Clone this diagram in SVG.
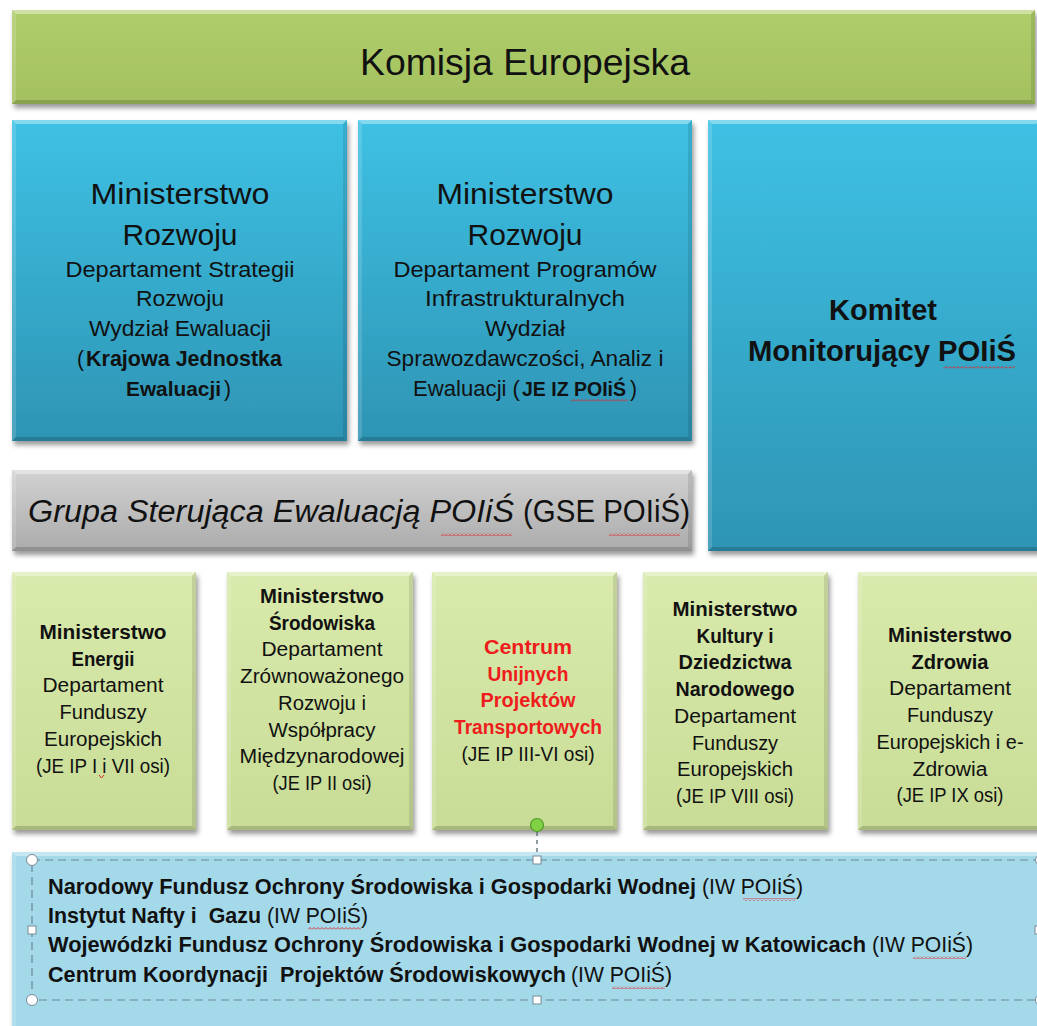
<svg xmlns="http://www.w3.org/2000/svg" width="1037" height="1026" viewBox="0 0 1037 1026">
<defs>
<style>
.t{font-family:"Liberation Sans",Arial,sans-serif;fill:#111;}
.L{font-size:29px;}
.M{font-size:22.5px;}
.S{font-size:20px;}
.B{font-size:21.5px;}
.b{font-weight:bold;}
.c{text-anchor:middle;}
.red{fill:#ee1c1c;}
.bh{fill:#fff;opacity:.38;}
.bl{fill:#fff;opacity:.15;}
.br{fill:#000;opacity:.10;}
.bb{fill:#000;opacity:.16;}
.sq{fill:url(#wave);}
.hc{fill:#fff;stroke:#7a8a94;stroke-width:1;}
</style>
<linearGradient id="gTop" x1="0" y1="0" x2="0" y2="1"><stop offset="0" stop-color="#b0cd6b"/><stop offset="1" stop-color="#a3c15f"/></linearGradient>
<linearGradient id="gBlue" x1="0" y1="0" x2="0" y2="1"><stop offset="0" stop-color="#3ec1e4"/><stop offset="1" stop-color="#2e94b4"/></linearGradient>
<linearGradient id="gGray" x1="0" y1="0" x2="0" y2="1"><stop offset="0" stop-color="#d2d2d2"/><stop offset="1" stop-color="#ababab"/></linearGradient>
<linearGradient id="gLight" x1="0" y1="0" x2="0" y2="1"><stop offset="0" stop-color="#d9eaac"/><stop offset="1" stop-color="#c8dc96"/></linearGradient>
<filter id="sh" x="-5%" y="-5%" width="112%" height="115%"><feDropShadow dx="2" dy="4" stdDeviation="2.5" flood-color="#000" flood-opacity="0.4"/></filter>
<pattern id="wave" width="4" height="3" patternUnits="userSpaceOnUse"><path d="M0 2.5 L2 0.5 L4 2.5" fill="none" stroke="#e02828" stroke-width="0.9"/></pattern>
</defs>
<rect width="1037" height="1026" fill="#fff"/>

<g id="n-komisja">
<rect x="12" y="10" width="1023" height="94" fill="url(#gTop)" filter="url(#sh)"/>
<polygon class="bh" points="12,10 1035,10 1031,14 16,14"/>
<polygon class="bl" points="12,10 16,14 16,100 12,104"/>
<polygon class="br" points="1035,10 1035,104 1031,100 1031,14"/>
<polygon class="bb" points="12,104 1035,104 1031,100 16,100"/>
<text class="t c" x="525" y="75" style="font-size:37px" textLength="330" lengthAdjust="spacingAndGlyphs">Komisja Europejska</text>
</g>

<g id="n-mr1">
<rect x="12" y="120" width="335" height="321" fill="url(#gBlue)" filter="url(#sh)"/>
<polygon class="bh" points="12,120 347,120 343,124 16,124"/>
<polygon class="bl" points="12,120 16,124 16,437 12,441"/>
<polygon class="br" points="347,120 347,441 343,437 343,124"/>
<polygon class="bb" points="12,441 347,441 343,437 16,437"/>
<text class="t L c" x="180" y="204" textLength="179" lengthAdjust="spacingAndGlyphs">Ministerstwo</text>
<text class="t L c" x="180" y="245" textLength="115" lengthAdjust="spacingAndGlyphs">Rozwoju</text>
<text class="t M c" x="180" y="277" textLength="229" lengthAdjust="spacingAndGlyphs">Departament Strategii</text>
<text class="t M c" x="180" y="306" textLength="88" lengthAdjust="spacingAndGlyphs">Rozwoju</text>
<text class="t M c" x="180" y="336" textLength="182" lengthAdjust="spacingAndGlyphs">Wydział Ewaluacji</text>
<text class="t M" x="77" y="366" textLength="7" lengthAdjust="spacingAndGlyphs">(</text>
<text class="t M b" x="86" y="366" textLength="196" lengthAdjust="spacingAndGlyphs">Krajowa Jednostka</text>
<text class="t b" x="126" y="396" style="font-size:20.5px" textLength="95" lengthAdjust="spacingAndGlyphs">Ewaluacji</text>
<text class="t M" x="224" y="396" textLength="7" lengthAdjust="spacingAndGlyphs">)</text>
</g>

<g id="n-mr2">
<rect x="358" y="120" width="334" height="321" fill="url(#gBlue)" filter="url(#sh)"/>
<polygon class="bh" points="358,120 692,120 688,124 362,124"/>
<polygon class="bl" points="358,120 362,124 362,437 358,441"/>
<polygon class="br" points="692,120 692,441 688,437 688,124"/>
<polygon class="bb" points="358,441 692,441 688,437 362,437"/>
<text class="t L c" x="525" y="204" textLength="177" lengthAdjust="spacingAndGlyphs">Ministerstwo</text>
<text class="t L c" x="525" y="245" textLength="115" lengthAdjust="spacingAndGlyphs">Rozwoju</text>
<text class="t M c" x="525" y="277" textLength="263" lengthAdjust="spacingAndGlyphs">Departament Programów</text>
<text class="t M c" x="525" y="306" textLength="200" lengthAdjust="spacingAndGlyphs">Infrastrukturalnych</text>
<text class="t M c" x="525" y="336" textLength="80" lengthAdjust="spacingAndGlyphs">Wydział</text>
<text class="t M c" x="525" y="366" textLength="277" lengthAdjust="spacingAndGlyphs">Sprawozdawczości, Analiz i</text>
<text class="t M" x="413" y="396" textLength="107" lengthAdjust="spacingAndGlyphs">Ewaluacji (</text>
<text class="t b" x="522" y="396" style="font-size:19.5px" textLength="104" lengthAdjust="spacingAndGlyphs">JE IZ POIiŚ</text>
<text class="t M" x="630" y="396" textLength="7" lengthAdjust="spacingAndGlyphs">)</text>
<rect class="sq" x="571" y="399" width="57" height="3"/>
</g>

<g id="n-komitet">
<rect x="708" y="120" width="332" height="431" fill="url(#gBlue)" filter="url(#sh)"/>
<polygon class="bh" points="708,120 1040,120 1036,124 712,124"/>
<polygon class="bl" points="708,120 712,124 712,547 708,551"/>
<polygon class="bb" points="708,551 1040,551 1036,547 712,547"/>
<text class="t L b c" x="883" y="320" textLength="108" lengthAdjust="spacingAndGlyphs">Komitet</text>
<text class="t L b c" x="882" y="361" textLength="268" lengthAdjust="spacingAndGlyphs">Monitorujący  POIiŚ</text>
<rect class="sq" x="943" y="366" width="72" height="3"/>
</g>

<g id="n-gse">
<rect x="12" y="470" width="680" height="81" fill="url(#gGray)" filter="url(#sh)"/>
<polygon class="bh" points="12,470 692,470 688,474 16,474"/>
<polygon class="bl" points="12,470 16,474 16,547 12,551"/>
<polygon class="br" points="692,470 692,551 688,547 688,474"/>
<polygon class="bb" points="12,551 692,551 688,547 16,547"/>
<text class="t" x="28" y="522" style="font-size:31px;font-style:italic" textLength="486" lengthAdjust="spacingAndGlyphs">Grupa Sterująca Ewaluacją POIiŚ</text>
<text class="t" x="523" y="522" style="font-size:31px" textLength="167" lengthAdjust="spacingAndGlyphs">(GSE POIiŚ)</text>
<rect class="sq" x="441" y="533" width="71" height="3"/>
<rect class="sq" x="609" y="533" width="71" height="3"/>
</g>

<g id="n-energii">
<rect x="12" y="572" width="184" height="258" fill="url(#gLight)" filter="url(#sh)"/>
<polygon class="bh" points="12,572 196,572 192,576 16,576"/>
<polygon class="bl" points="12,572 16,576 16,826 12,830"/>
<polygon class="br" points="196,572 196,830 192,826 192,576"/>
<polygon class="bb" points="12,830 196,830 192,826 16,826"/>
<text class="t S b c" x="103" y="639" textLength="127" lengthAdjust="spacingAndGlyphs">Ministerstwo</text>
<text class="t S b c" x="103" y="665.7" textLength="63" lengthAdjust="spacingAndGlyphs">Energii</text>
<text class="t S c" x="103" y="692.4" textLength="121" lengthAdjust="spacingAndGlyphs">Departament</text>
<text class="t S c" x="103" y="719.1" textLength="87" lengthAdjust="spacingAndGlyphs">Funduszy</text>
<text class="t S c" x="103" y="745.8" textLength="118" lengthAdjust="spacingAndGlyphs">Europejskich</text>
<text class="t S c" x="103" y="772.5" textLength="134" lengthAdjust="spacingAndGlyphs">(JE IP I i VII osi)</text>
<path d="M99 775 L101.5 778 L104 775" fill="none" stroke="#e02828" stroke-width="1"/>
</g>

<g id="n-srodowiska">
<rect x="227" y="572" width="186" height="258" fill="url(#gLight)" filter="url(#sh)"/>
<polygon class="bh" points="227,572 413,572 409,576 231,576"/>
<polygon class="bl" points="227,572 231,576 231,826 227,830"/>
<polygon class="br" points="413,572 413,830 409,826 409,576"/>
<polygon class="bb" points="227,830 413,830 409,826 231,826"/>
<text class="t S b c" x="322" y="603" textLength="124" lengthAdjust="spacingAndGlyphs">Ministerstwo</text>
<text class="t S b c" x="322" y="629.7" textLength="106" lengthAdjust="spacingAndGlyphs">Środowiska</text>
<text class="t S c" x="322" y="656.4" textLength="121" lengthAdjust="spacingAndGlyphs">Departament</text>
<text class="t S c" x="322" y="683.1" textLength="164" lengthAdjust="spacingAndGlyphs">Zrównoważonego</text>
<text class="t S c" x="322" y="709.8" textLength="88" lengthAdjust="spacingAndGlyphs">Rozwoju i</text>
<text class="t S c" x="322" y="736.5" textLength="107" lengthAdjust="spacingAndGlyphs">Współpracy</text>
<text class="t S c" x="322" y="763.2" textLength="165" lengthAdjust="spacingAndGlyphs">Międzynarodowej</text>
<text class="t S c" x="322" y="789.9" textLength="99" lengthAdjust="spacingAndGlyphs">(JE IP II osi)</text>
</g>

<g id="n-cupt">
<rect x="432" y="572" width="185" height="258" fill="url(#gLight)" filter="url(#sh)"/>
<polygon class="bh" points="432,572 617,572 613,576 436,576"/>
<polygon class="bl" points="432,572 436,576 436,826 432,830"/>
<polygon class="br" points="617,572 617,830 613,826 613,576"/>
<polygon class="bb" points="432,830 617,830 613,826 436,826"/>
<text class="t S b c red" x="528" y="654" textLength="88" lengthAdjust="spacingAndGlyphs">Centrum</text>
<text class="t S b c red" x="528" y="680.7" textLength="81" lengthAdjust="spacingAndGlyphs">Unijnych</text>
<text class="t S b c red" x="528" y="707.4" textLength="95" lengthAdjust="spacingAndGlyphs">Projektów</text>
<text class="t S b c red" x="528" y="734.1" textLength="148" lengthAdjust="spacingAndGlyphs">Transportowych</text>
<text class="t S c" x="528" y="760.8" textLength="133" lengthAdjust="spacingAndGlyphs">(JE IP III-VI osi)</text>
</g>

<g id="n-kultury">
<rect x="643" y="572" width="185" height="258" fill="url(#gLight)" filter="url(#sh)"/>
<polygon class="bh" points="643,572 828,572 824,576 647,576"/>
<polygon class="bl" points="643,572 647,576 647,826 643,830"/>
<polygon class="br" points="828,572 828,830 824,826 824,576"/>
<polygon class="bb" points="643,830 828,830 824,826 647,826"/>
<text class="t S b c" x="735" y="616" textLength="125" lengthAdjust="spacingAndGlyphs">Ministerstwo</text>
<text class="t S b c" x="735" y="642.7" textLength="77" lengthAdjust="spacingAndGlyphs">Kultury i</text>
<text class="t S b c" x="735" y="669.4" textLength="113" lengthAdjust="spacingAndGlyphs">Dziedzictwa</text>
<text class="t S b c" x="735" y="696.1" textLength="119" lengthAdjust="spacingAndGlyphs">Narodowego</text>
<text class="t S c" x="735" y="722.8" textLength="122" lengthAdjust="spacingAndGlyphs">Departament</text>
<text class="t S c" x="735" y="749.5" textLength="86" lengthAdjust="spacingAndGlyphs">Funduszy</text>
<text class="t S c" x="735" y="776.2" textLength="116" lengthAdjust="spacingAndGlyphs">Europejskich</text>
<text class="t S c" x="735" y="802.9" textLength="118" lengthAdjust="spacingAndGlyphs">(JE IP VIII osi)</text>
</g>

<g id="n-zdrowia">
<rect x="858" y="572" width="185" height="258" fill="url(#gLight)" filter="url(#sh)"/>
<polygon class="bh" points="858,572 1043,572 1039,576 862,576"/>
<polygon class="bl" points="858,572 862,576 862,826 858,830"/>
<polygon class="bb" points="858,830 1043,830 1039,826 862,826"/>
<text class="t S b c" x="950" y="642" textLength="124" lengthAdjust="spacingAndGlyphs">Ministerstwo</text>
<text class="t S b c" x="950" y="668.7" textLength="77" lengthAdjust="spacingAndGlyphs">Zdrowia</text>
<text class="t S c" x="950" y="695.4" textLength="122" lengthAdjust="spacingAndGlyphs">Departament</text>
<text class="t S c" x="950" y="722.1" textLength="86" lengthAdjust="spacingAndGlyphs">Funduszy</text>
<text class="t S c" x="950" y="748.8" textLength="147" lengthAdjust="spacingAndGlyphs">Europejskich i e-</text>
<text class="t S c" x="950" y="775.5" textLength="75" lengthAdjust="spacingAndGlyphs">Zdrowia</text>
<text class="t S c" x="950" y="802.2" textLength="107" lengthAdjust="spacingAndGlyphs">(JE IP IX osi)</text>
</g>

<g id="n-iw">
<rect x="12" y="852" width="1032" height="180" fill="#a4d9ea" filter="url(#sh)"/>
<polygon class="bh" points="12,852 1044,852 1040,856 16,856"/>
<polygon class="bl" points="12,852 16,856 16,1030 12,1034"/>
<text class="t B b" x="48" y="894" textLength="648" lengthAdjust="spacingAndGlyphs">Narodowy Fundusz Ochrony Środowiska i Gospodarki Wodnej</text>
<text class="t B" x="702" y="894" textLength="101" lengthAdjust="spacingAndGlyphs">(IW POIiŚ)</text>
<text class="t B b" x="48" y="923" xml:space="preserve" textLength="213" lengthAdjust="spacingAndGlyphs">Instytut Nafty i  Gazu</text>
<text class="t B" x="267" y="923" textLength="101" lengthAdjust="spacingAndGlyphs">(IW POIiŚ)</text>
<text class="t B b" x="48" y="952" textLength="818" lengthAdjust="spacingAndGlyphs">Wojewódzki Fundusz Ochrony Środowiska i Gospodarki Wodnej w Katowicach</text>
<text class="t B" x="872" y="952" textLength="101" lengthAdjust="spacingAndGlyphs">(IW POIiŚ)</text>
<text class="t B b" x="48" y="982" xml:space="preserve" textLength="518" lengthAdjust="spacingAndGlyphs">Centrum Koordynacji  Projektów Środowiskowych</text>
<text class="t B" x="571" y="982" textLength="101" lengthAdjust="spacingAndGlyphs">(IW POIiŚ)</text>
<rect class="sq" x="743" y="898" width="53" height="3"/>
<rect class="sq" x="308" y="927" width="53" height="3"/>
<rect class="sq" x="913" y="956" width="53" height="3"/>
<rect class="sq" x="612" y="986" width="53" height="3"/>
</g>

<g id="connectors"></g>

<g id="selection">
<rect x="32" y="860" width="1010" height="140" fill="none" stroke="#6a8796" stroke-width="1.2" stroke-dasharray="8 5"/>
<line x1="537" y1="832" x2="537" y2="856" stroke="#4a5a66" stroke-width="1.2" stroke-dasharray="4 4"/>
<circle cx="537" cy="825" r="6.5" fill="#80d244" stroke="#4f9a2a" stroke-width="1.2"/>
<circle class="hc" cx="32" cy="860" r="5.5"/>
<circle class="hc" cx="32" cy="1000" r="5.5"/>
<circle class="hc" cx="1041" cy="860" r="5.5"/>
<circle class="hc" cx="1041" cy="1000" r="5.5"/>
<rect class="hc" x="533" y="856" width="8" height="8"/>
<rect class="hc" x="533" y="996" width="8" height="8"/>
<rect class="hc" x="28" y="926" width="8" height="8"/>
<rect class="hc" x="1035" y="926" width="8" height="8"/>
</g>
</svg>
